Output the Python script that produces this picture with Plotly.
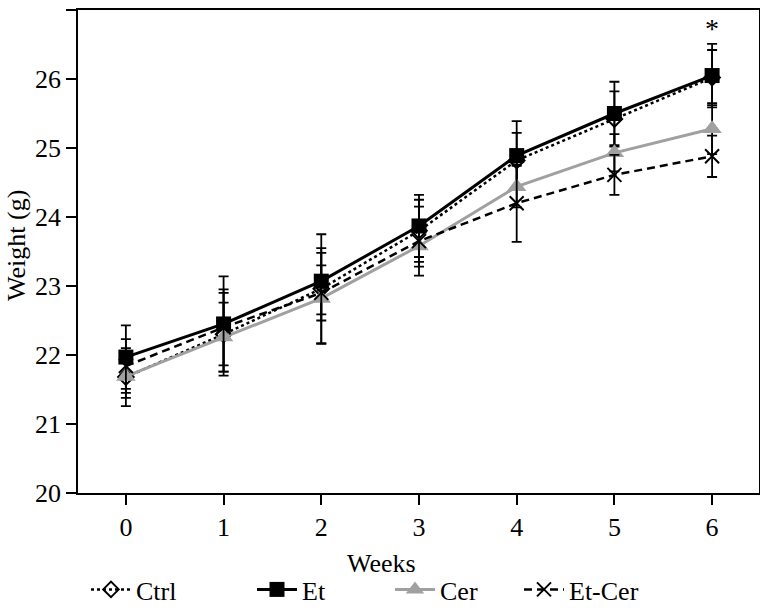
import plotly.graph_objects as go

weeks = [0, 1, 2, 3, 4, 5, 6]

ctrl = [21.68, 22.30, 22.96, 23.80, 24.82, 25.42, 26.02]
ctrl_sd = [0.42, 0.60, 0.79, 0.45, 0.40, 0.40, 0.40]

et = [21.97, 22.45, 23.07, 23.87, 24.89, 25.50, 26.05]
et_sd = [0.46, 0.69, 0.48, 0.45, 0.50, 0.46, 0.46]

cer = [21.69, 22.26, 22.82, 23.58, 24.44, 24.93, 25.28]
cer_sd = [0.31, 0.50, 0.66, 0.30, 0.30, 0.27, 0.37]

etcer = [21.84, 22.40, 22.90, 23.65, 24.20, 24.61, 24.88]
etcer_sd = [0.39, 0.55, 0.40, 0.50, 0.56, 0.29, 0.30]

FONT = "Liberation Serif, Times New Roman, Times, serif"


def err(sd):
    return dict(type="data", array=sd, visible=True, color="black",
                thickness=1.8, width=5)


fig = go.Figure()

fig.add_trace(go.Scatter(
    x=weeks, y=ctrl, name="Ctrl", mode="lines+markers", legend="legend",
    line=dict(color="black", width=2.5, dash="dot"),
    marker=dict(symbol="diamond-open", size=12, color="black",
                line=dict(width=2, color="black")),
    error_y=err(ctrl_sd)))

fig.add_trace(go.Scatter(
    x=weeks, y=et, name="Et", mode="lines+markers", legend="legend2",
    line=dict(color="black", width=3),
    marker=dict(symbol="square", size=15, color="black"),
    error_y=err(et_sd)))

fig.add_trace(go.Scatter(
    x=weeks, y=cer, name="Cer", mode="lines+markers", legend="legend3",
    line=dict(color="#a0a0a0", width=3),
    marker=dict(symbol="triangle-up", size=17, color="#a0a0a0"),
    error_y=err(cer_sd)))

fig.add_trace(go.Scatter(
    x=weeks, y=etcer, name="Et-Cer", mode="lines+markers", legend="legend4",
    line=dict(color="black", width=2.5, dash="8px,5px"),
    marker=dict(symbol="x-thin-open", size=14, color="black",
                line=dict(width=2, color="black")),
    error_y=err(etcer_sd)))

# significance mark above week 6
fig.add_annotation(x=6, y=26.71, yshift=2, text="*", showarrow=False,
                   yanchor="middle", font=dict(size=28, color="black", family=FONT))

fig.add_annotation(text="Weight (g)", xref="paper", yref="paper",
                   x=-0.09, xanchor="center", y=0.513, yanchor="middle",
                   textangle=-90, showarrow=False,
                   font=dict(size=26, color="black", family=FONT))

fig.add_annotation(text="Weeks", xref="paper", yref="paper",
                   x=0.445, xanchor="center", y=-0.145, yanchor="middle",
                   showarrow=False, font=dict(size=26, color="black", family=FONT))


def leg(x0):
    return dict(orientation="h", xref="container", yref="container",
                x=x0 / 760, xanchor="left", y=-0.008, yanchor="bottom",
                font=dict(size=26, family=FONT, color="black"),
                bgcolor="rgba(0,0,0,0)", borderwidth=0, itemwidth=40)


fig.update_layout(
    width=760, height=613,
    margin=dict(l=78, r=1, t=10, b=120),
    plot_bgcolor="white", paper_bgcolor="white",
    font=dict(family=FONT, size=26, color="black"),
    showlegend=True,
    legend=leg(86), legend2=leg(252), legend3=leg(390), legend4=leg(519),
)

fig.update_xaxes(
    range=[-0.49, 6.48], tickvals=weeks, showgrid=False, zeroline=False,
    showline=True, linecolor="black", linewidth=1.5, mirror=True,
    ticks="outside", ticklen=10, tickwidth=1.5, tickcolor="black",
    automargin=False)

fig.update_yaxes(
    range=[20, 27], dtick=1, showgrid=False, zeroline=False,
    showline=True, linecolor="black", linewidth=1.5, mirror=True,
    ticks="outside", ticklen=10, tickwidth=1.5, tickcolor="black",
    automargin=False)

fig.write_html("out.html", config={"displayModeBar": False},
               post_script="document.body.style.margin='0';")
